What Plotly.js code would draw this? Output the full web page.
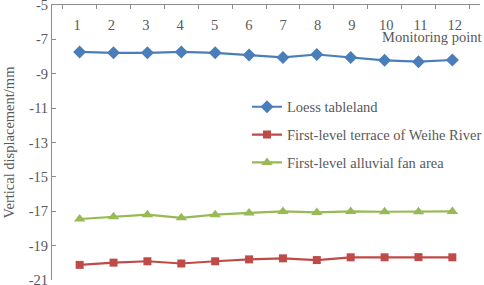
<!DOCTYPE html>
<html><head><meta charset="utf-8">
<script src="https://cdn.plot.ly/plotly-3.0.1.min.js"></script>
<style>html,body{margin:0;padding:0;background:#fff}</style>
</head><body><div id="chart" style="width:484px;height:285px"></div>
<script>
const points = ["1","2","3","4","5","6","7","8","9","10","11","12"];
const loess = [-7.73,-7.78,-7.78,-7.73,-7.78,-7.91,-8.05,-7.88,-8.05,-8.22,-8.30,-8.20];
const terrace = [-20.12,-19.99,-19.91,-20.04,-19.91,-19.80,-19.74,-19.84,-19.68,-19.68,-19.67,-19.68];
const fan = [-17.45,-17.32,-17.20,-17.38,-17.20,-17.10,-17.01,-17.07,-17.01,-17.03,-17.03,-17.01];
const seriesNames = ["Loess tableland","First-level terrace of Weihe River","First-level alluvial fan area"];
const yTickVals = [-21,-19,-17,-15,-13,-11,-9,-7,-5];
const yTickText = ["-21","-19","-17","-15","-13","-11","-9","-7","-5"];

const font = {family:"Liberation Serif, Times New Roman, serif", size:14.5, color:"#595959"};
const mk = (y,name,color,symbol,size,g)=>({
  x: points, y: y, name: name, type:"scatter", mode:"lines+markers",
  legendgroup: g,
  line:{color:color,width:2.2},
  marker:{color:color,symbol:symbol,size:size}
});
const data = [
  mk(loess,seriesNames[0],"#4A7EBB","diamond",10,"a"),
  mk(terrace,seriesNames[1],"#BE4B48","square",8,"b"),
  mk(fan,seriesNames[2],"#98B954","triangle-up",10,"c"),
  // invisible carrier for the category labels axis
  {x: points, y: loess, xaxis:"x2", type:"scatter", mode:"markers", marker:{opacity:0},
   showlegend:false, hoverinfo:"skip"}
];
const layout = {
  width:484, height:285,
  margin:{l:52,r:4,t:5,b:5,autoexpand:false},
  paper_bgcolor:"#fff", plot_bgcolor:"#fff",
  font: font,
  showlegend:true,
  legend:{x:0.4556, y:0.688, xanchor:"left", yanchor:"top",
    bgcolor:"rgba(0,0,0,0)", font:font, tracegroupgap:6, traceorder:"grouped", itemwidth:30},
  xaxis:{type:"category", side:"top", showline:true, linecolor:"#8C8C8C", linewidth:1,
    ticks:"inside", ticklen:4, tickcolor:"#8C8C8C", tickson:"boundaries",
    showticklabels:false, showgrid:false, zeroline:false, automargin:false},
  xaxis2:{type:"category", overlaying:"x", side:"top", anchor:"free", position:0.9,
    showline:false, ticks:"", showgrid:false, zeroline:false, tickfont:font, automargin:false},
  yaxis:{range:[-21,-5], tickvals:yTickVals, ticktext:yTickText, automargin:false,
    ticklabeloverflow:"allow",
    showline:true, linecolor:"#8C8C8C", linewidth:1, ticks:"inside", ticklen:4, tickcolor:"#8C8C8C",
    showgrid:false, zeroline:false, tickfont:font,
    title:{text:"Vertical displacement/mm", font:font, standoff:10}},
  annotations:[{text:"Monitoring point", xref:"paper", yref:"paper", x:1.01, y:0.882,
    xanchor:"right", yanchor:"middle", showarrow:false, font:font}]
};
Plotly.newPlot("chart", data, layout, {displayModeBar:false, staticPlot:true});
</script></body></html>
